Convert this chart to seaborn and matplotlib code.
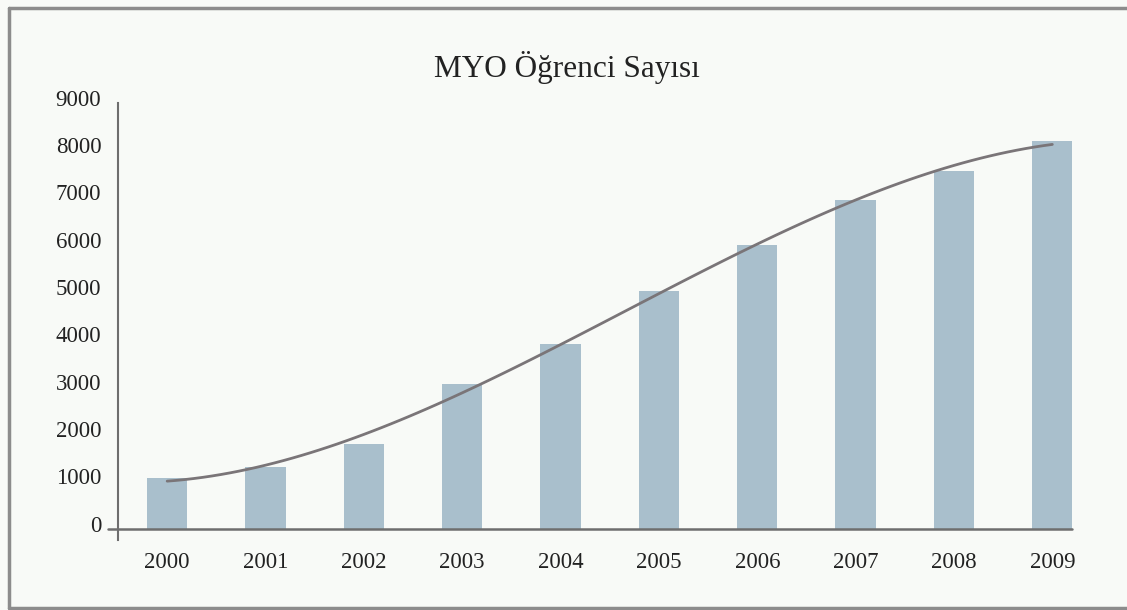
import numpy as np
import pandas as pd
import matplotlib
matplotlib.use('Agg')
import matplotlib.pyplot as plt
import matplotlib.transforms as mtransforms
from matplotlib.lines import Line2D
import seaborn as sns

# data
years = ['2000', '2001', '2002', '2003', '2004', '2005', '2006', '2007', '2008', '2009']
students = [1080, 1310, 1790, 3060, 3920, 5020, 6000, 6950, 7570, 8200]
y_ticks = [0, 1000, 2000, 3000, 4000, 5000, 6000, 7000, 8000, 9000]

title = 'MYO Öğrenci Sayısı'

sns.set_style('white')
plt.rcParams['font.family'] = ['Liberation Serif', 'DejaVu Serif']

bg = '#f8faf7'
bar_color = '#a9bfcc'
line_color = '#7a7578'
axis_color = '#6e6e6e'

df = pd.DataFrame({'Year': years, 'Students': students})
df['pos'] = np.arange(len(df))

fig = plt.figure(figsize=(11.27, 6.10), dpi=100, facecolor=bg)
ax = fig.add_axes([0.1047, 0.114, 0.8465, 0.717])
ax.set_facecolor(bg)

sns.barplot(data=df, x='Year', y='Students', order=years, color=bar_color,
            width=0.41, saturation=1, linewidth=0, ax=ax)

# smooth trend line (3rd order polynomial, like the spreadsheet trendline)
sns.regplot(data=df, x='pos', y='Students', order=3, ci=None, scatter=False,
            truncate=True, ax=ax, line_kws={'color': line_color, 'lw': 2})

ax.set_xlim(-0.5, 9.2)
ax.set_ylim(-240, 9000)
ax.set_yticks(y_ticks)
ax.set_yticklabels([str(v) for v in y_ticks])
ax.set_xticks(range(len(years)))
ax.set_xticklabels(years)
ax.set_xlabel('')
ax.set_ylabel('')

for s in ['top', 'right', 'bottom']:
    ax.spines[s].set_visible(False)
ax.spines['left'].set_color(axis_color)
ax.spines['left'].set_linewidth(1.5)

# x axis line at zero, sticking out a little left of the y axis
ax.axhline(0, xmin=-0.01, xmax=1, color=axis_color, lw=1.8, clip_on=False, zorder=3)

ax.tick_params(axis='y', length=0, pad=12, labelsize=16.5, labelcolor='#222222')
ax.tick_params(axis='x', length=0, pad=8, labelsize=16.5, labelcolor='#222222')

# y labels sit a touch above their gridline in the original
offset = mtransforms.ScaledTranslation(0, 4 / 72, fig.dpi_scale_trans)
for lab in ax.get_yticklabels():
    lab.set_transform(lab.get_transform() + offset)

fig.text(0.503, 0.89, title, ha='center', va='center', fontsize=22.5, color='#222222')

# outer frame
frame_kw = dict(color='#8c8c8c', lw=2.5, transform=fig.transFigure)
fig.lines.append(Line2D([0.008, 1.0], [0.987, 0.987], **frame_kw))
fig.lines.append(Line2D([0.008, 0.008], [0.003, 0.987], **frame_kw))
fig.lines.append(Line2D([0.008, 1.0], [0.003, 0.003], **frame_kw))

fig.savefig('out.png', dpi=100, facecolor=bg)
